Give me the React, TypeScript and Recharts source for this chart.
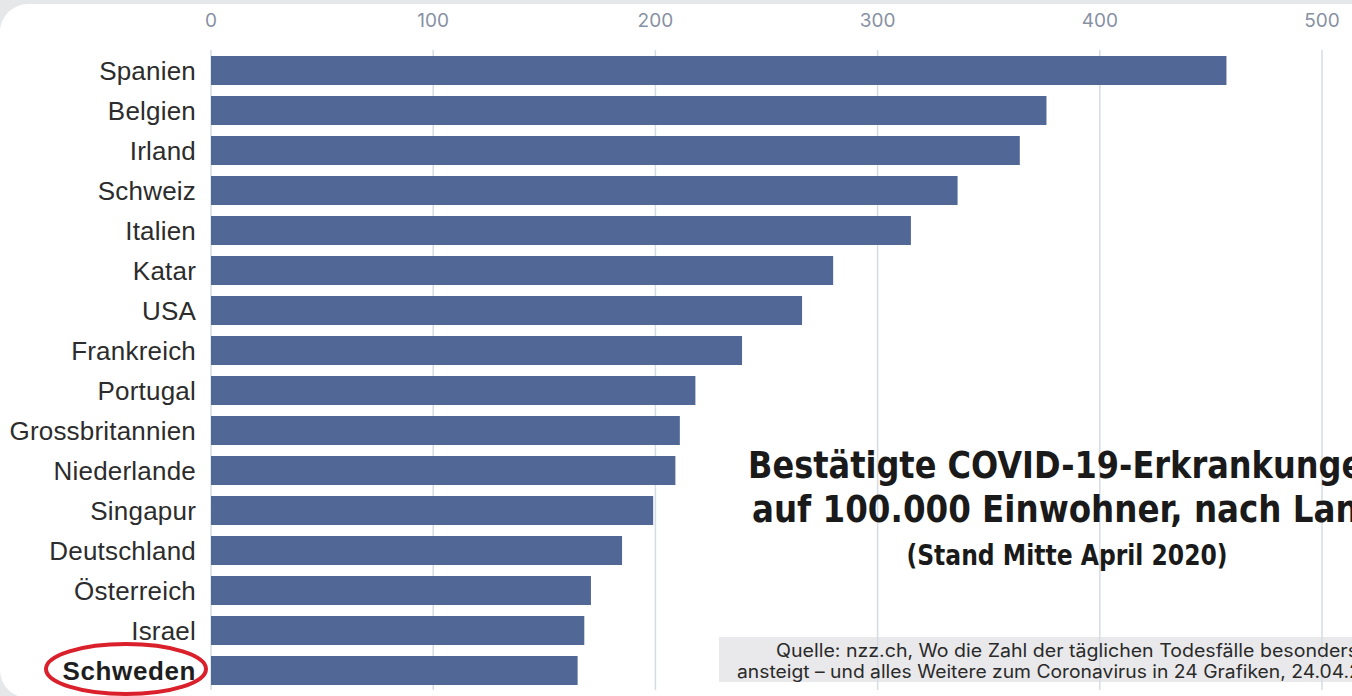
import React from "react"
import { BarChart, Bar, XAxis, YAxis, CartesianGrid } from "recharts"

const countries = [
  "Spanien",
  "Belgien",
  "Irland",
  "Schweiz",
  "Italien",
  "Katar",
  "USA",
  "Frankreich",
  "Portugal",
  "Grossbritannien",
  "Niederlande",
  "Singapur",
  "Deutschland",
  "Österreich",
  "Israel",
  "Schweden",
]

const cases = [457, 376, 364, 336, 315, 280, 266, 239, 218, 211, 209, 199, 185, 171, 168, 165]

const xTicks = [0, 100, 200, 300, 400, 500]

const titleLines = ["Bestätigte COVID-19-Erkrankungen", "auf 100.000 Einwohner, nach Land"]
const subtitle = "(Stand Mitte April 2020)"
const sourceLines = [
  "Quelle: nzz.ch, Wo die Zahl der täglichen Todesfälle besonders",
  "ansteigt – und alles Weitere zum Coronavirus in 24 Grafiken, 24.04.2020",
]

const highlight = "Schweden"

const data = countries.map((name, i) => ({ name, value: cases[i] }))

const BAR = "#516896"
const NARROW = "'Liberation Sans Narrow', 'DejaVu Sans Condensed', 'Roboto Condensed', sans-serif"

function XTick(props: any) {
  const { x, payload } = props
  return (
    <text x={x} y={27} textAnchor="middle" fill="#8891a3" fontSize={19} fontFamily="Inter, 'Noto Sans', sans-serif">
      {payload.value}
    </text>
  )
}

function YTick(props: any) {
  const { y, payload } = props
  const hl = payload.value === highlight
  return (
    <g>
      {hl && <ellipse cx={126} cy={y - 1} rx={80} ry={25} fill="none" stroke="#d9202b" strokeWidth={4} />}
      <text
        x={196}
        y={y + 10}
        textAnchor="end"
        fill={hl ? "#1e1e1e" : "#2c2c2c"}
        fontSize={26}
        letterSpacing={hl ? 0.6 : 0.2}
        fontWeight={hl ? "bold" : "normal"}
        fontFamily="'Liberation Sans', Arial, sans-serif"
      >
        {payload.value}
      </text>
    </g>
  )
}

export default function App() {
  return (
    <div style={{ position: "fixed", left: 0, top: 0, width: 1352, height: 696, background: "#e6e7e9", overflow: "hidden" }}>
      <div style={{ position: "absolute", left: 0, top: 4, width: 1400, height: 694, background: "#fff", borderRadius: 28 }} />
      <div style={{ position: "absolute", left: 719, top: 637, width: 700, height: 45, background: "#e9e9eb" }} />
      <div style={{ position: "absolute", left: 0, top: 0 }}>
        <BarChart
          width={1352}
          height={696}
          data={data}
          layout="vertical"
          margin={{ top: 0, right: 30, bottom: 6, left: 0 }}
          barSize={29}
        >
          <CartesianGrid vertical horizontal={false} stroke="#d6dbe4" strokeWidth={1.5} />
          <XAxis
            type="number"
            orientation="top"
            domain={[0, 500]}
            ticks={xTicks}
            axisLine={false}
            tickLine={false}
            height={50}
            tick={<XTick />}
            interval={0}
          />
          <YAxis
            type="category"
            dataKey="name"
            width={211}
            axisLine={false}
            tickLine={false}
            tick={<YTick />}
            interval={0}
          />
          <Bar dataKey="value" fill={BAR} isAnimationActive={false} />
          <text x={1067} y={478} textAnchor="middle" fontFamily={NARROW} fontWeight="bold" fontSize={38} fill="#1a1a1a" textLength={638} lengthAdjust="spacingAndGlyphs">
            {titleLines[0]}
          </text>
          <text x={1067} y={522} textAnchor="middle" fontFamily={NARROW} fontWeight="bold" fontSize={38} fill="#1a1a1a" textLength={630} lengthAdjust="spacingAndGlyphs">
            {titleLines[1]}
          </text>
          <text x={1067} y={565} textAnchor="middle" fontFamily={NARROW} fontWeight="bold" fontSize={29} fill="#1a1a1a" textLength={321} lengthAdjust="spacingAndGlyphs">
            {subtitle}
          </text>
          <text x={1067} y={657} textAnchor="middle" fontFamily="Inter, 'Noto Sans', sans-serif" fontSize={18} fill="#2a2a2a" textLength={582} lengthAdjust="spacingAndGlyphs">
            {sourceLines[0]}
          </text>
          <text x={1067} y={678} textAnchor="middle" fontFamily="Inter, 'Noto Sans', sans-serif" fontSize={18} fill="#2a2a2a" textLength={660} lengthAdjust="spacingAndGlyphs">
            {sourceLines[1]}
          </text>
        </BarChart>
      </div>
    </div>
  )
}
